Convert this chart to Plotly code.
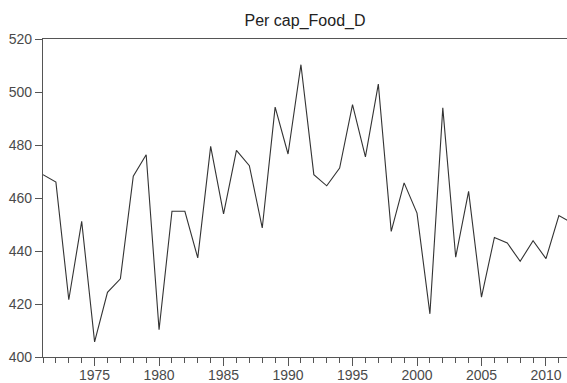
import plotly.graph_objects as go

# Annual per-capita food series, 1971-2012
years = list(range(1971, 2013))
per_cap_food = [
    468.8, 466.0, 421.6, 451.2, 405.7, 424.4, 429.5, 468.2, 476.3, 410.3,
    455.0, 455.0, 437.4, 479.5, 454.0, 478.0, 472.2, 448.7, 494.3, 476.6,
    510.3, 468.8, 464.6, 471.3, 495.2, 475.5, 503.0, 447.4, 465.7, 454.3,
    416.3, 494.0, 437.7, 462.5, 422.6, 445.1, 443.0, 436.1, 443.9, 437.1,
    453.4, 450.6,
]
y_ticks = [400, 420, 440, 460, 480, 500, 520]
x_ticks = [1975, 1980, 1985, 1990, 1995, 2000, 2005, 2010]

W, H = 567, 383
fig = go.Figure(
    go.Scatter(
        x=years, y=per_cap_food, mode="lines",
        line=dict(color="#333333", width=1.1),
        hoverinfo="skip",
    )
)

axis_font = dict(family="Liberation Sans, Arial, sans-serif", size=14, color="#4a4a4a")

fig.update_layout(
    width=W, height=H,
    margin=dict(l=43, r=0, t=39, b=26, autoexpand=False),
    paper_bgcolor="white", plot_bgcolor="white",
    showlegend=False,
    title=dict(
        text="Per cap_Food_D",
        x=(43 + 567) / 2 / W, xanchor="center",
        y=1 - 20 / H, yanchor="middle", yref="container",
        font=dict(family="Liberation Sans, Arial, sans-serif", size=16, color="#222222"),
    ),
    xaxis=dict(
        range=[1971, 2011.63], automargin=False,
        tickvals=x_ticks, ticks="outside", ticklen=8, tickwidth=1.2, tickcolor="#555555",
        ticklabelstandoff=-3,
        minor=dict(dtick=1, tick0=1971, ticks="outside", ticklen=5, tickwidth=1.2, tickcolor="#555555", showgrid=False),
        showgrid=False, zeroline=False,
        showline=True, linecolor="#555555", linewidth=1.3, mirror=True,
        tickfont=axis_font,
    ),
    yaxis=dict(
        range=[400, 520], automargin=False,
        tickvals=y_ticks, ticks="outside", ticklen=7, tickwidth=1.2, tickcolor="#555555",
        showgrid=False, zeroline=False,
        showline=True, linecolor="#555555", linewidth=1.3, mirror=False,
        tickfont=axis_font,
    ),
)

fig.write_html("out.html")
